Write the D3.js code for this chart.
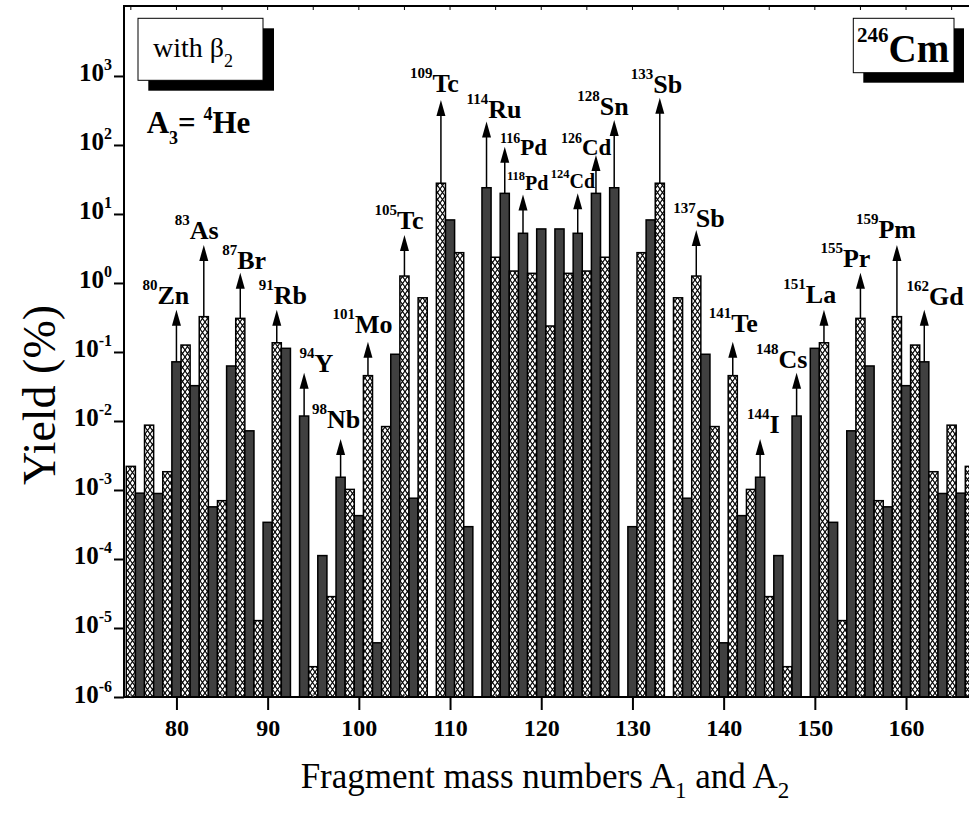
<!DOCTYPE html>
<html><head><meta charset="utf-8">
<script src="https://cdn.jsdelivr.net/npm/d3@7"></script>
<style>html,body{margin:0;padding:0;background:#fff;overflow:hidden}</style>
</head><body>
<svg id="chart" width="969" height="814"></svg>
<script>
// ---- data ----
const massNumbers = d3.range(75, 168); // 75..167
const yields = [
  2.2e-3, 9.0e-4, 8.7e-3, 8.9e-4, 1.84e-3, 0.072, 0.126, 0.0325, 0.325, 5.7e-4,   // 75-84
  7.0e-4, 0.0627, 0.307, 7.2e-3, 1.28e-5, 3.4e-4, 0.136, 0.113, null, 0.0118,     // 85-94
  2.75e-6, 1.12e-4, 2.85e-5, 1.53e-3, 1.02e-3, 4.25e-4, 0.0454, 6.1e-6, 8.3e-3, 0.0927, // 95-104
  1.26, 7.6e-4, 0.61, null, 27.9, 8.2, 2.75, 2.94e-4, null, 24.0,                 // 105-114
  2.36, 19.9, 1.49, 5.25, 1.38, 6.07, 0.238, 6.07, 1.38, 5.25,                     // 115-124
  1.49, 19.9, 2.36, 24.0, null, 2.94e-4, 2.75, 8.2, 27.9, null,                    // 125-134
  0.61, 7.6e-4, 1.26, 0.0927, 8.3e-3, 6.1e-6, 0.0454, 4.25e-4, 1.02e-3, 1.53e-3,   // 135-144
  2.85e-5, 1.12e-4, 2.75e-6, 0.0118, null, 0.113, 0.136, 3.4e-4, 1.28e-5, 7.2e-3,  // 145-154
  0.307, 0.0627, 7.0e-4, 5.7e-4, 0.325, 0.0325, 0.126, 0.072, 1.84e-3, 8.9e-4,     // 155-164
  8.7e-3, 9.0e-4, 2.2e-3                                                           // 165-167
];
const xTickValues = [80, 90, 100, 110, 120, 130, 140, 150, 160];
const yTickExponents = [-6, -5, -4, -3, -2, -1, 0, 1, 2, 3];
// annotation: mass, element, arrow tip value
const labelMass = [80, 83, 87, 91, 94, 98, 101, 105, 109, 114, 116, 118, 124, 126, 128, 133, 137, 141, 144, 148, 151, 155, 159, 162];
const labelElement = ["Zn","As","Br","Rb","Y","Nb","Mo","Tc","Tc","Ru","Pd","Pd","Cd","Cd","Sn","Sb","Sb","Te","I","Cs","La","Pr","Pm","Gd"];
const arrowTip = [0.41, 3.56, 1.41, 0.41, 0.050, 5.5e-3, 0.141, 4.97, 449, 218, 94.4, 19.2, 19.9, 71.6, 230, 485, 5.86, 0.141, 5.5e-3, 0.050, 0.41, 1.41, 3.56, 0.41];

// ---- layout (pixel offsets for labels relative to arrow tip) ----
const labelDx = [-34, -29, -18, -18, -4.7, -28.5, -35.5, -30, -31, -20, -4.7, -16, -27, -35, -37, -29, -23, -24, -13, -40.6, -40.6, -40, -41, -17.7];
const labelDy = [-6, -6, -3.7, -6, -1, -11, -8.7, -6.3, -8.3, -3.4, 8.3, -4.3, -5.3, 0, -5, -5, -3.3, -10, -6, -4.4, -6.7, -6, -6.7, -5];
const labelSize = labelMass.map(m => (m === 118 || m === 124) ? 20 : (m === 116 || m === 126) ? 23 : 26);

const svg = d3.select("#chart");
const L = 124, T = 6, B = 697, R = 969;
const x = d3.scaleLinear().domain([74.25, 167.5]).range([L, L + 93.25 * 9.12]);
const y = d3.scaleLog().domain([1e-6, Math.pow(10, 4.014)]).range([B, T]);
const FONT = "'Liberation Serif','Times New Roman',serif";
const DARK = "#404040";

const defs = svg.append("defs");
const PW = 5, PH = 7;
const pat = defs.append("pattern").attr("id", "hatch").attr("patternUnits", "userSpaceOnUse")
  .attr("width", PW).attr("height", PH);
pat.append("rect").attr("width", PW).attr("height", PH).attr("fill", "#fff");
pat.append("path").attr("d", `M0,0L${PW},${PH}M${PW},0L0,${PH}`)
  .attr("stroke", "#000").attr("stroke-width", 1.1);
defs.append("clipPath").attr("id", "plotclip").append("rect")
  .attr("x", L).attr("y", T).attr("width", R - L + 10).attr("height", B - T);

// bars
const data = massNumbers.map((m, i) => ({ m, v: yields[i] })).filter(d => d.v != null);
svg.append("g").attr("clip-path", "url(#plotclip)")
  .selectAll("rect").data(data).join("rect")
  .attr("x", d => x(d.m - 0.5))
  .attr("width", d => x(d.m + 0.5) - x(d.m - 0.5))
  .attr("y", d => y(d.v))
  .attr("height", d => B - y(d.v))
  .attr("fill", d => d.m % 2 === 0 ? DARK : "url(#hatch)")
  .attr("stroke", "#000").attr("stroke-width", 1.5);

// arrows + labels
const ann = labelMass.map((m, i) => ({ m, el: labelElement[i], tip: arrowTip[i], dx: labelDx[i], dy: labelDy[i], fs: labelSize[i], v: yields[massNumbers.indexOf(m)] }));
const ag = svg.append("g");
ann.forEach(a => {
  const ax = x(a.m), ty = y(a.tip), by = y(a.v);
  ag.append("line").attr("x1", ax).attr("x2", ax).attr("y1", by).attr("y2", ty + 10)
    .attr("stroke", "#000").attr("stroke-width", 1.5);
  ag.append("path").attr("d", `M${ax},${ty}L${ax - 4.5},${ty + 16}L${ax + 4.5},${ty + 16}Z`).attr("fill", "#000");
  const supFs = a.fs >= 26 ? 15 : a.fs >= 23 ? 14 : 12.5;
  const raise = a.fs >= 26 ? 14 : a.fs >= 23 ? 12 : 10;
  const t = ag.append("text").attr("x", ax + a.dx).attr("y", ty + a.dy)
    .attr("font-family", FONT).attr("font-weight", "bold");
  t.append("tspan").attr("font-size", supFs).attr("dy", -raise).text(a.m);
  t.append("tspan").attr("font-size", a.fs).attr("dy", raise).text(a.el);
});

// frame
svg.append("line").attr("x1", L).attr("x2", L).attr("y1", T).attr("y2", B).attr("stroke", "#000").attr("stroke-width", 2);
svg.append("line").attr("x1", L - 1).attr("x2", R).attr("y1", T).attr("y2", T).attr("stroke", "#000").attr("stroke-width", 2);

// x axis
const xAxis = d3.axisBottom(x).tickValues(xTickValues).tickSize(13).tickSizeOuter(0).tickPadding(9).tickFormat(d3.format("d"));
const gx = svg.append("g").attr("transform", `translate(0,${B})`).call(xAxis);
gx.select(".domain").attr("d", `M${L - 1},0H${R}`).attr("stroke-width", 2);
gx.selectAll(".tick line").attr("stroke-width", 2);
gx.selectAll(".tick text").attr("font-family", FONT).attr("font-weight", "bold").attr("font-size", 24).attr("fill", "#000");
// minor ticks (inside) bottom and top
const minor = d3.range(75, 170, 5);
svg.append("g").selectAll("line").data(minor.filter(v => v % 10 !== 0)).join("line")
  .attr("x1", d => x(d)).attr("x2", d => x(d)).attr("y1", B).attr("y2", B - 4).attr("stroke", "#888").attr("stroke-width", 1);
svg.append("g").selectAll("line").data(minor).join("line")
  .attr("x1", d => x(d)).attr("x2", d => x(d)).attr("y1", T).attr("y2", T + 4).attr("stroke", "#000").attr("stroke-width", 1);

// y axis
const yTicks = yTickExponents.map(e => Math.pow(10, e));
const yAxis = d3.axisLeft(y).tickValues(yTicks).tickSize(10).tickSizeOuter(0).tickPadding(2).tickFormat(() => "");
const gy = svg.append("g").attr("transform", `translate(${L},0)`).call(yAxis);
gy.select(".domain").remove();
gy.selectAll(".tick line").attr("stroke-width", 2);
gy.selectAll(".tick text").each(function (d, i) {
  const t = d3.select(this).attr("font-family", FONT).attr("font-weight", "bold").attr("fill", "#000")
    .attr("x", -12).attr("dy", "0.5em");
  t.append("tspan").attr("font-size", 25).text("10");
  t.append("tspan").attr("font-size", 16).attr("dy", -11).text(String(yTickExponents[i]));
});

// axis titles
const xt = svg.append("text").attr("x", 545).attr("y", 788).attr("text-anchor", "middle")
  .attr("font-family", FONT).attr("font-size", 35).attr("fill", "#000");
xt.append("tspan").text("Fragment mass numbers A");
xt.append("tspan").attr("font-size", 23).attr("dy", 10).text("1");
xt.append("tspan").attr("dy", -10).text(" and A");
xt.append("tspan").attr("font-size", 23).attr("dy", 10).text("2");

svg.append("text").attr("transform", "translate(55,395) rotate(-90)").attr("text-anchor", "middle")
  .attr("font-family", FONT).attr("font-size", 46).attr("fill", "#000").text("Yield (%)");

// "with β2" box
svg.append("rect").attr("x", 148.3).attr("y", 28.3).attr("width", 125.7).attr("height", 62.4).attr("fill", "#000");
svg.append("rect").attr("x", 138).attr("y", 18.3).attr("width", 125).attr("height", 62).attr("fill", "#fff").attr("stroke", "#000").attr("stroke-width", 1);
const wb = svg.append("text").attr("x", 153).attr("y", 57).attr("font-family", FONT).attr("font-size", 28).attr("fill", "#000");
wb.append("tspan").text("with β");
wb.append("tspan").attr("font-size", 18).attr("dy", 10).text("2");

// A3 = 4He
const at = svg.append("text").attr("x", 146.7).attr("y", 133.3).attr("font-family", FONT).attr("font-weight", "bold").attr("font-size", 31).attr("fill", "#000");
at.append("tspan").text("A");
at.append("tspan").attr("font-size", 18).attr("dy", 11).text("3");
at.append("tspan").attr("dy", -11).text("= ");
at.append("tspan").attr("font-size", 18).attr("dy", -13).text("4");
at.append("tspan").attr("dy", 13).text("He");

// 246Cm box
svg.append("rect").attr("x", 863.3).attr("y", 28.3).attr("width", 100.7).attr("height", 54.4).attr("fill", "#000");
svg.append("rect").attr("x", 853.3).attr("y", 18.3).attr("width", 100.7).attr("height", 54.4).attr("fill", "#fff").attr("stroke", "#000").attr("stroke-width", 1);
const cm = svg.append("text").attr("x", 857).attr("y", 61.7).attr("font-family", FONT).attr("font-weight", "bold").attr("fill", "#000");
cm.append("tspan").attr("font-size", 21).attr("dy", -20).text("246");
cm.append("tspan").attr("font-size", 39).attr("dy", 20).text("Cm");
</script>
</body></html>
